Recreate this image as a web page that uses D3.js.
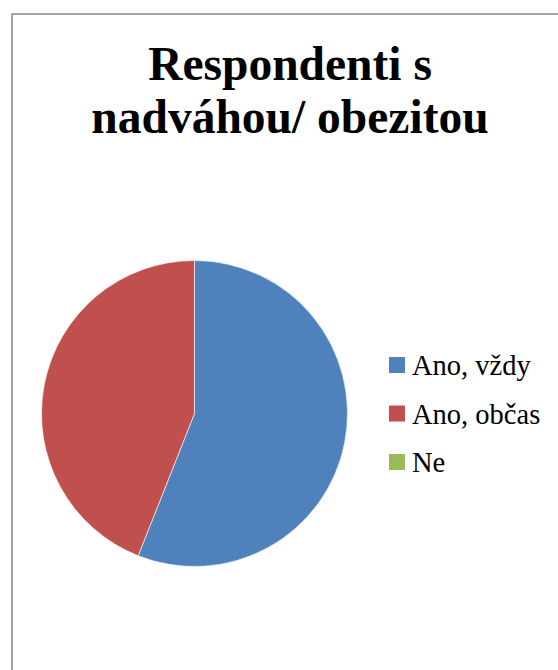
<!DOCTYPE html>
<html>
<head>
<meta charset="utf-8">
<script src="https://cdn.jsdelivr.net/npm/d3@7"></script>
<style>
  html, body { margin: 0; padding: 0; background: #fff; }
  svg { display: block; }
  .serif { font-family: "Liberation Serif", "Times New Roman", Times, "DejaVu Serif", serif; }
</style>
</head>
<body>
<svg id="chart" width="558" height="670"></svg>
<script>
// Survey answers: respondents with overweight / obesity
const categories = ["Ano, vždy", "Ano, občas", "Ne"];
const values = [14, 11, 0];
const colors = ["#4F81BD", "#C0504D", "#9BBB59"];
const titleLines = ["Respondenti s", "nadváhou/ obezitou"];

const svg = d3.select("#chart");
const W = 558, H = 670;

// chart frame
svg.append("rect")
  .attr("x", 12).attr("y", 14)
  .attr("width", W + 20).attr("height", H + 20)
  .attr("fill", "#fff")
  .attr("stroke", "#888")
  .attr("stroke-width", 1.5);

// title
const title = svg.append("text")
  .attr("class", "serif")
  .attr("text-anchor", "middle")
  .attr("font-weight", "bold")
  .attr("font-size", 47.5)
  .attr("fill", "#000");
title.selectAll("tspan")
  .data(titleLines)
  .join("tspan")
  .attr("x", 290)
  .attr("y", (d, i) => 80 + i * 52.5)
  .text(d => d);

// pie
const cx = 194.5, cy = 413.5, radius = 153;
const color = d3.scaleOrdinal().domain(categories).range(colors);
const pie = d3.pie().sort(null).value(d => d.value);
const arc = d3.arc().innerRadius(0).outerRadius(radius);
const data = categories.map((c, i) => ({ name: c, value: values[i] }));

svg.append("g")
  .attr("transform", `translate(${cx},${cy})`)
  .selectAll("path")
  .data(pie(data).filter(d => d.data.value > 0))
  .join("path")
  .attr("d", arc)
  .attr("fill", d => color(d.data.name))
  .attr("stroke", "#fff")
  .attr("stroke-width", 0.6)
  .attr("stroke-linejoin", "round");

// legend
const legend = svg.append("g").attr("transform", "translate(389,0)");
const rowY = d3.scalePoint().domain(categories).range([365, 462]);
const rows = legend.selectAll("g")
  .data(categories)
  .join("g")
  .attr("transform", d => `translate(0,${rowY(d)})`);
rows.append("rect")
  .attr("x", 0).attr("y", -8)
  .attr("width", 16).attr("height", 16)
  .attr("fill", d => color(d));
rows.append("text")
  .attr("class", "serif")
  .attr("x", 23).attr("y", 10)
  .attr("font-size", 28.5)
  .attr("fill", "#000")
  .text(d => d);
</script>
</body>
</html>
